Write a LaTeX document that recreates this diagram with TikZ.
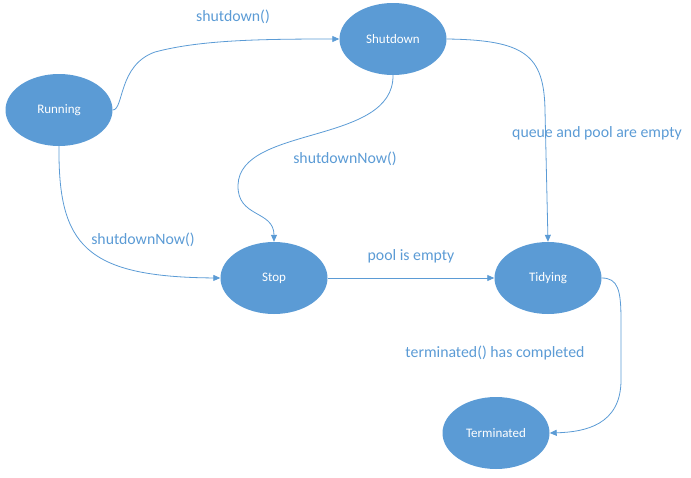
\documentclass[tikz,border=0pt]{standalone}
\usepackage{fontspec}
\setmainfont{Carlito}
\usetikzlibrary{arrows.meta,shapes.geometric}
\definecolor{offblue}{HTML}{5B9BD5}
\tikzset{
  state/.style={ellipse, fill=offblue, minimum width=107pt, minimum height=72pt, inner sep=0pt, text=white, font=\fontsize{13}{15}\selectfont},
  conn/.style={draw=offblue, line width=0.8pt, -{Triangle[length=7pt,width=6pt]}},
  lbl/.style={text=offblue, font=\fontsize{15.8}{18}\selectfont, inner sep=0pt},
}
\begin{document}
\begin{tikzpicture}[x=1pt,y=-1pt]
\useasboundingbox (0,0) rectangle (691,477);
\node[state] (run) at (59,110) {Running};
\node[state] (shut) at (393,39) {Shutdown};
\node[state] (stop) at (274,278) {Stop};
\node[state] (tidy) at (548,278) {Tidying};
\node[state] (term) at (496,433) {Terminated};

\draw[conn] (run.east) .. controls (124,110) and (118,65) .. (155,52) .. controls (200,40) and (260,39) .. (shut.west);
\draw[conn] (run.south) .. controls (58,245) and (85,277) .. (stop.west);
\draw[conn] (shut.south) .. controls (394,145) and (240,125) .. (238,185) .. controls (237,218) and (274,210) .. (stop.north);
\draw[conn] (shut.east) .. controls (525,40) and (544,55) .. (545,110) -- (tidy.north);
\draw[conn] (stop.east) -- (tidy.west);
\draw[conn] (tidy.east) .. controls (618,278) and (621,290) .. (621,320) -- (621,380) .. controls (621,425) and (585,432) .. (term.east);

\node[lbl] (l1) at (233,17) {shutdown()};
\node[lbl] (l2) at (345,159) {shutdownNow()};
\node[lbl] (l3) at (597,133) {queue and pool are empty};
\node[lbl] (l4) at (143,240) {shutdownNow()};
\node[lbl] (l5) at (411,256) {pool is empty};
\node[lbl] (l6) at (495,353) {terminated() has completed};
\end{tikzpicture}
\end{document}
